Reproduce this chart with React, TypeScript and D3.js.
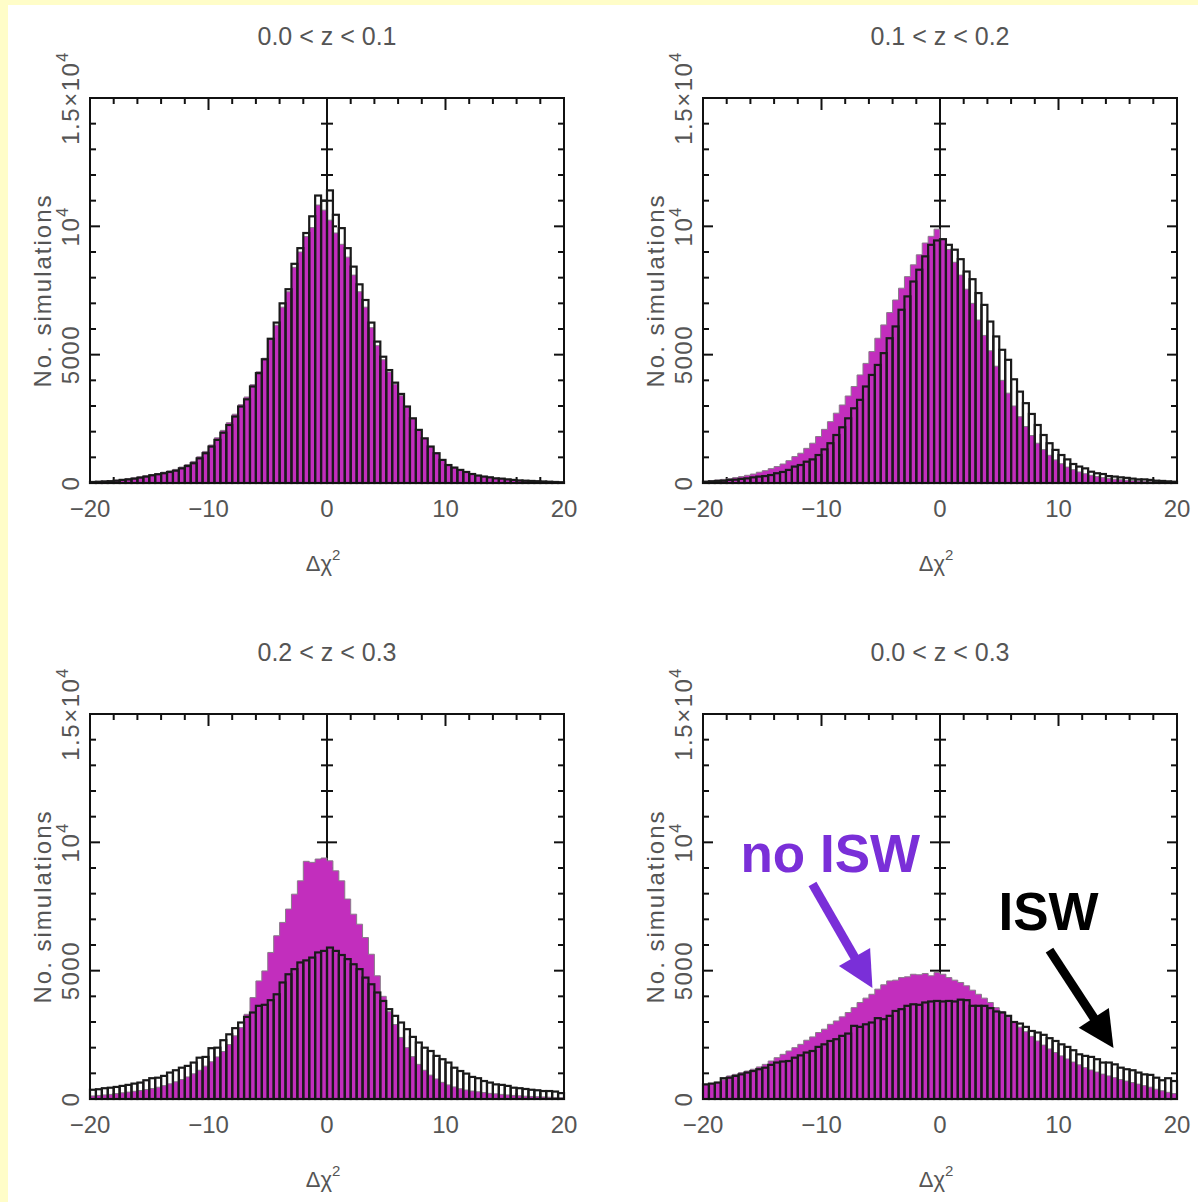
import React from "react";
import * as d3 from "d3";

// bins: 80 bins of width 0.5 from -20 to 20
const binEdges = d3.range(-20, 20.0001, 0.5);

const panelTitles = ["0.0 < z < 0.1", "0.1 < z < 0.2", "0.2 < z < 0.3", "0.0 < z < 0.3"];

// no ISW (magenta, filled)
const noIsw01 = [50,60,70,80,110,140,170,200,240,280, 330,370,420,470,530,620,720,840,1020,1230,
  1480,1760,2050,2350,2680,3050,3350,3830,4330,4860, 5580,6150,6850,7450,8400,9000,9600,9950,10830,10630,
  10240,9740,9300,8800,8100,7450,6850,6050,5350,4800, 4320,3850,3400,2940,2500,2060,1730,1420,1160,910,
  720,610,520,440,360,300,260,230,190,170, 150,120,100,90,80,70,60,50,40,30];
const noIsw02 = [65,90,120,140,170,210,250,300,350,420, 480,560,640,740,870,1030,1160,1350,1550,1810,
  2090,2390,2720,3040,3390,3760,4210,4660,5120,5640, 6160,6640,7130,7590,8040,8500,8890,9350,9610,9890,
  9500,9100,8600,8100,7550,7000,6350,5750,5150,4550, 4000,3500,3000,2580,2200,1850,1550,1300,1080,900,
  750,620,520,430,360,300,250,210,180,150, 130,110,95,80,70,60,50,45,40,35];
const noIsw03 = [120,140,160,180,210,240,270,300,330,370, 410,460,520,590,670,760,860,980,1120,1280,
  1450,1640,1850,2120,2460,2780,3300,3950,4600,4990, 5710,6360,6880,7400,7980,8500,9260,9220,9350,9390,
  9280,8890,8500,7790,7200,6810,6290,5640,4800,4000, 3400,2900,2400,2000,1650,1350,1120,930,780,650,
  550,470,400,350,310,280,250,220,200,180, 160,140,125,110,100,90,80,70,60,50];
const noIsw04 = [560,600,650,750,900,960,1030,1090,1160,1250, 1350,1480,1610,1740,1870,2000,2130,2290,2420,2590,
  2720,2910,3040,3200,3370,3560,3760,3930,4080,4280, 4450,4600,4630,4730,4760,4860,4840,4890,4800,4930,
  4860,4730,4630,4540,4410,4240,4080,3930,3760,3560, 3410,3200,2980,2800,2620,2440,2260,2100,1950,1810,
  1680,1560,1440,1330,1220,1130,1050,970,900,830, 760,700,640,580,520,460,380,320,260,210];

// ISW (black outlined bars)
const isw01 = [40,50,60,70,90,120,140,170,210,250, 300,340,380,430,480,570,660,770,960,1160,
  1420,1680,1960,2260,2590,2980,3260,3760,4280,4820, 5620,6250,7000,7550,8540,9150,9740,10390,11200,11000,
  11400,10450,9930,9150,8430,7740,7130,6250,5510,4920, 4400,3910,3470,2980,2520,2070,1740,1420,1160,900,
  700,600,510,430,350,290,250,220,180,170, 140,120,100,90,80,70,60,50,40,30];
const isw02 = [50,65,80,90,120,130,160,180,220,250, 270,310,380,430,510,640,700,830,920,1090,
  1310,1550,1870,2170,2520,2910,3240,3760,4210,4600, 5060,5640,6100,6750,7270,7850,8310,8830,9280,9450,
  9500,9280,9090,8720,8240,7940,7400,6940,6290,5710, 5190,4800,4040,3560,3110,2690,2260,1870,1550,1290,
  1090,920,740,640,570,440,380,350,270,250, 220,200,170,140,140,120,90,80,65,50];
const isw03 = [360,380,420,440,470,510,550,600,640,730, 810,830,900,1030,1120,1220,1290,1420,1610,1640,
  1980,2000,2290,2520,2760,2980,3200,3370,3630,3670, 3850,4080,4540,4860,5060,5320,5400,5510,5710,5770,
  5900,5770,5610,5450,5250,5060,4730,4470,4150,3820, 3500,3240,2980,2720,2420,2200,2000,1870,1680,1550,
  1420,1220,1090,990,860,810,700,640,570,550, 510,440,420,390,360,340,310,310,290,230];
const isw04 = [570,600,640,810,830,900,960,1030,1090,1160, 1220,1330,1420,1460,1480,1610,1700,1810,1870,2030,
  2130,2260,2330,2460,2550,2850,2810,2910,2980,3150, 3110,3240,3430,3500,3630,3690,3670,3760,3800,3820,
  3800,3820,3800,3870,3850,3630,3630,3630,3540,3410, 3370,3240,3000,2940,2810,2650,2590,2500,2370,2260,
  2130,2030,1900,1740,1680,1640,1550,1420,1420,1350, 1220,1160,1120,1030,960,940,830,730,810,700];

const noIswSeries = [noIsw01, noIsw02, noIsw03, noIsw04];
const iswSeries = [isw01, isw02, isw03, isw04];

const xTickLabels = [-20, -10, 0, 10, 20];
const xMinorTicks = d3.range(-20, 21, 2);
const yMinorTicks = d3.range(0, 15001, 1000);
const yMajorTicks = [0, 5000, 10000, 15000];
const yTickLabels = [
  { v: 0, text: "0", sup: "" },
  { v: 5000, text: "5000", sup: "" },
  { v: 10000, text: "10", sup: "4" },
  { v: 15000, text: "1.5×10", sup: "4" },
];

// annotations in data units (panel 4)
const arrowNoIsw = { x0: -10.76, v0: 8380, x1: -5.7, v1: 4320 };
const arrowIsw = { x0: 9.24, v0: 5800, x1: 14.64, v1: 1990 };
const labelNoIsw = { x: -16.84, v: 8840, text: "no ISW" };
const labelIsw = { x: 4.94, v: 6580, text: "ISW" };

const W = 474;
const H = 385;
const boxes = [
  { left: 90, top: 98 },
  { left: 703, top: 98 },
  { left: 90, top: 714 },
  { left: 703, top: 714 },
];

const FONT = "'Liberation Sans', Arial, sans-serif";
const TXT = "#555555";
const MAGENTA = "#c22ebd";
const PURPLE = "#7a2fd8";

function Arrow({ x, y, a, color }) {
  const sx = x(a.x0), sy = y(a.v0), tx = x(a.x1), ty = y(a.v1);
  const len = Math.hypot(tx - sx, ty - sy);
  const ux = (tx - sx) / len, uy = (ty - sy) / len;
  const L = 36, hw = 18;
  const bx = tx - ux * L, by = ty - uy * L;
  const pts = [[tx, ty], [bx - uy * hw, by + ux * hw], [bx + uy * hw, by - ux * hw]];
  return (
    <g>
      <line x1={sx} y1={sy} x2={bx + ux * 2} y2={by + uy * 2} stroke={color} strokeWidth={9} />
      <polygon points={pts.map((p) => p.join(",")).join(" ")} fill={color} />
    </g>
  );
}

function Panel({ idx }) {
  const { left, top } = boxes[idx];
  const noIsw = noIswSeries[idx];
  const isw = iswSeries[idx];
  const x = d3.scaleLinear().domain([-20, 20]).range([left, left + W]);
  const y = d3.scaleLinear().domain([0, 15000]).range([top + H, top]);

  const steps = noIsw.map((v, i) => ({ e: binEdges[i], v })).concat([{ e: 20, v: noIsw[noIsw.length - 1] }]);
  const area = d3
    .area()
    .x((d) => x(d.e))
    .y0(y(0))
    .y1((d) => y(d.v))
    .curve(d3.curveStepAfter);

  const ticks = [];
  xMinorTicks.forEach((t) => {
    const len = t % 10 === 0 ? 12 : 6;
    ticks.push([x(t), y(15000), x(t), y(15000) + len]);
    ticks.push([x(t), y(0), x(t), y(0) - len]);
  });
  yMinorTicks.forEach((t) => {
    const len = yMajorTicks.includes(t) ? 10 : 6;
    ticks.push([x(-20), y(t), x(-20) + len, y(t)]);
    ticks.push([x(20), y(t), x(20) - len, y(t)]);
    ticks.push([x(0) - len, y(t), x(0) + len, y(t)]);
  });

  return (
    <g>
      {/* axes under the histograms */}
      <g stroke="#111" strokeWidth={2}>
        {ticks.map((t, i) => (
          <line key={i} x1={t[0]} y1={t[1]} x2={t[2]} y2={t[3]} />
        ))}
        <line x1={x(0)} y1={y(0)} x2={x(0)} y2={y(15000)} />
      </g>

      <path d={area(steps)} fill={MAGENTA} stroke="#8a7a8a" strokeWidth={1} />

      <g fill="none" stroke="#1a1a1a" strokeWidth={2.2}>
        {isw.map((v, i) => (
          <rect
            key={i}
            x={x(binEdges[i])}
            y={y(v)}
            width={x(binEdges[i + 1]) - x(binEdges[i])}
            height={y(0) - y(v)}
          />
        ))}
      </g>

      <rect x={x(-20)} y={y(15000)} width={W} height={H} fill="none" stroke="#111" strokeWidth={2} />

      <g fontFamily={FONT} fill={TXT}>
        <text x={x(0)} y={top - 53} fontSize={25} textAnchor="middle">
          {panelTitles[idx]}
        </text>
        {xTickLabels.map((t) => (
          <text key={t} x={x(t)} y={y(0) + 34} fontSize={24} textAnchor="middle">
            {t < 0 ? "\u2212" + Math.abs(t) : String(t)}
          </text>
        ))}
        <text x={x(0) - 4} y={y(0) + 88} fontSize={22} textAnchor="middle">
          Δχ<tspan dy={-11} fontSize={15}>2</tspan>
        </text>
        {yTickLabels.map((l) => (
          <text
            key={l.v}
            transform={`translate(${left - 11},${y(l.v)}) rotate(-90)`}
            fontSize={24}
            letterSpacing={1.5}
            textAnchor="middle"
          >
            {l.text}
            {l.sup && (
              <tspan dy={-11} fontSize={16}>
                {l.sup}
              </tspan>
            )}
          </text>
        ))}
        <text
          transform={`translate(${left - 39},${y(7500)}) rotate(-90)`}
          fontSize={24}
          letterSpacing={2}
          textAnchor="middle"
        >
          No. simulations
        </text>
      </g>

      {idx === 3 && (
        <g>
          <Arrow x={x} y={y} a={arrowNoIsw} color={PURPLE} />
          <Arrow x={x} y={y} a={arrowIsw} color="#000" />
          <text x={x(labelNoIsw.x)} y={y(labelNoIsw.v)} fontFamily={FONT} fontWeight="bold" fontSize={53} fill={PURPLE}>
            {labelNoIsw.text}
          </text>
          <text x={x(labelIsw.x)} y={y(labelIsw.v)} fontFamily={FONT} fontWeight="bold" fontSize={53} fill="#000">
            {labelIsw.text}
          </text>
        </g>
      )}
    </g>
  );
}

export default function App() {
  return (
    <svg
      width={1198}
      height={1202}
      style={{ position: "absolute", left: 0, top: 0, display: "block" }}
    >
      <rect x={0} y={0} width={1198} height={1202} fill="#fffdc8" />
      <rect x={8} y={5} width={1190} height={1197} fill="#ffffff" />
      {[0, 1, 2, 3].map((i) => (
        <Panel key={i} idx={i} />
      ))}
    </svg>
  );
}
